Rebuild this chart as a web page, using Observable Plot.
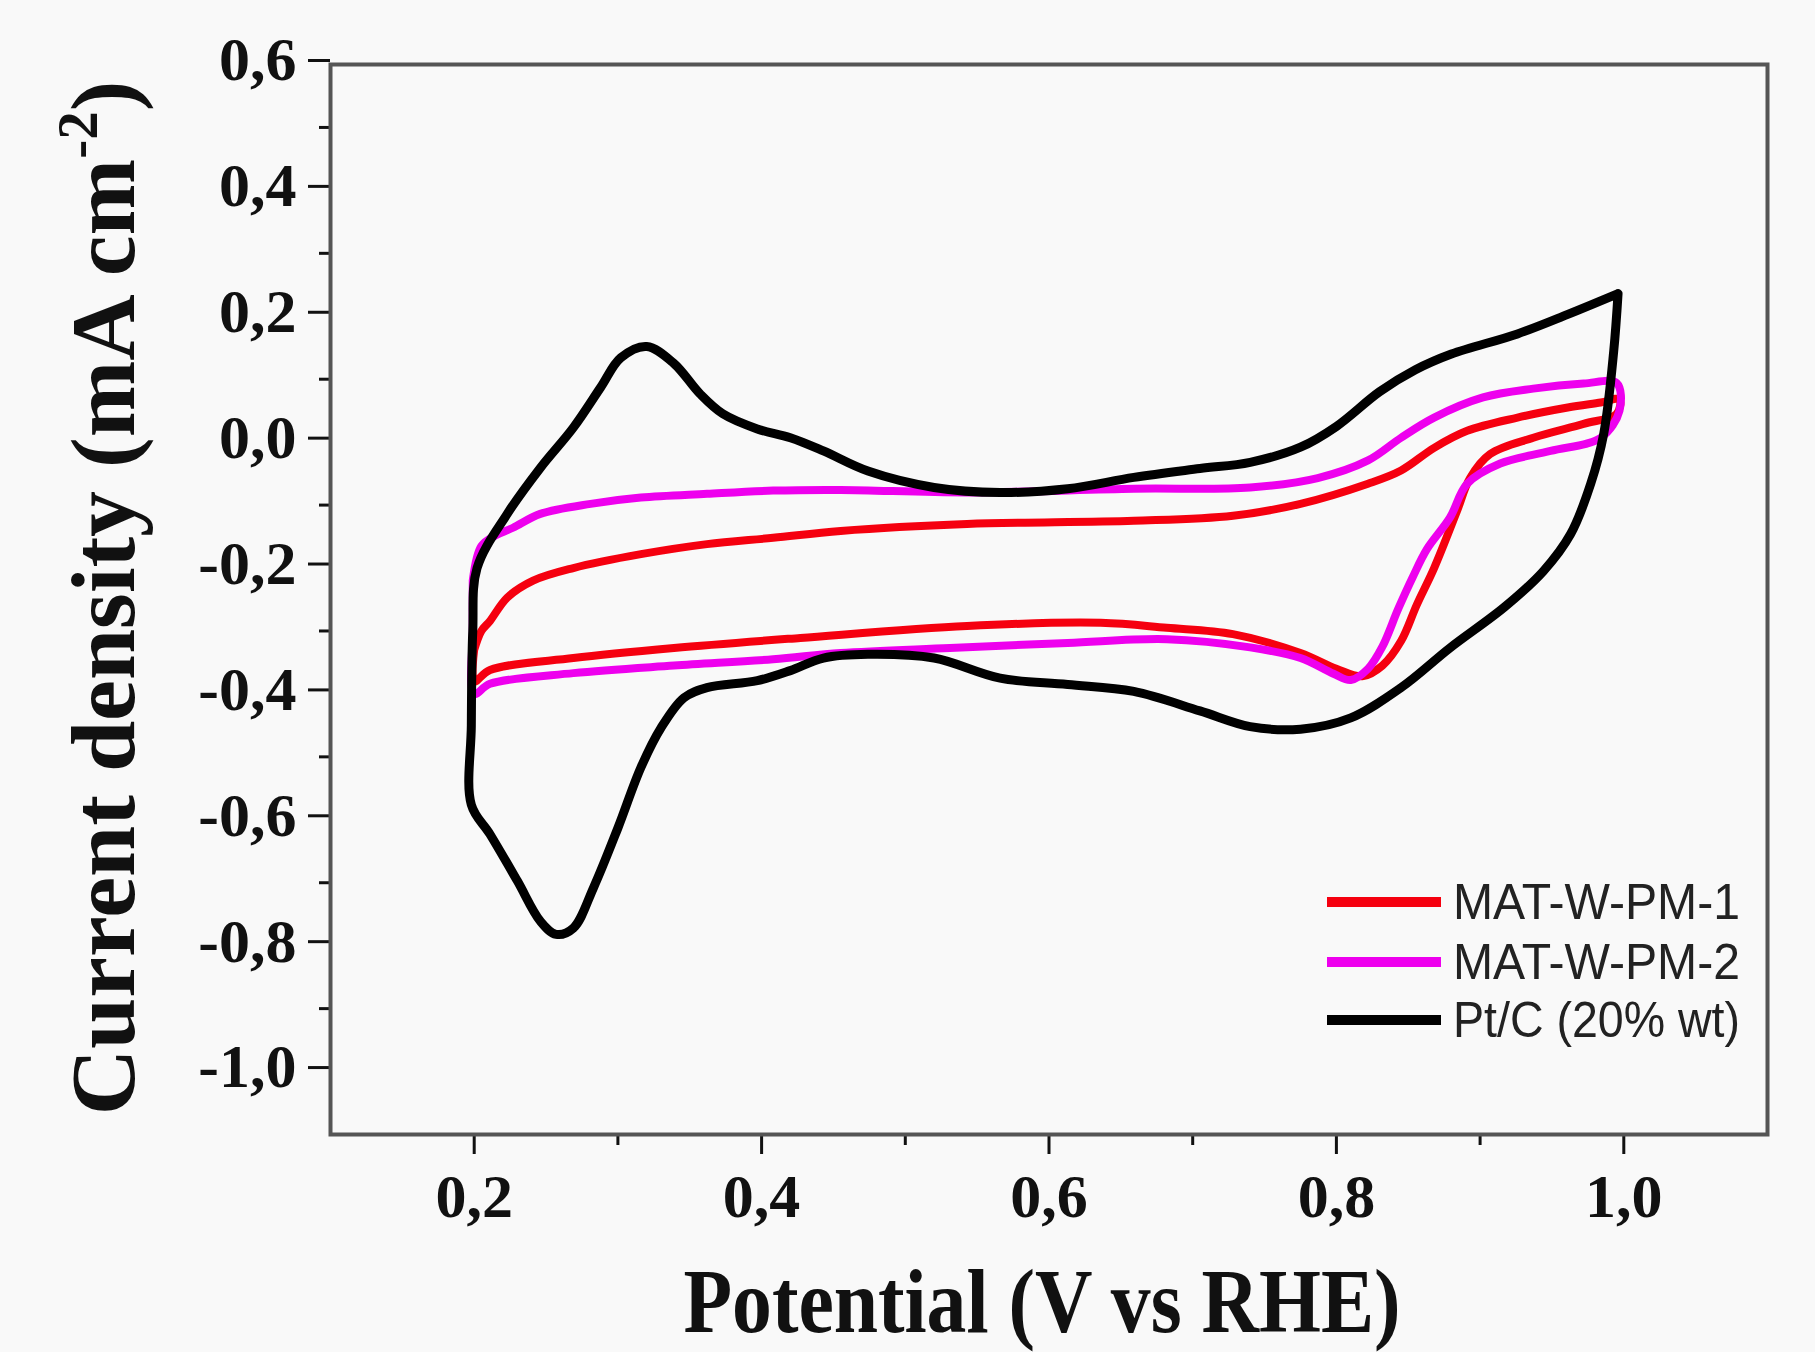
<!DOCTYPE html>
<html><head><meta charset="utf-8">
<script src="https://cdn.jsdelivr.net/npm/d3@7"></script>
<script src="https://cdn.jsdelivr.net/npm/@observablehq/plot@0.6"></script>
<style>html,body{margin:0;padding:0;background:#f9f9f9;} #chart{width:1815px;height:1352px;}</style>
</head><body><div id="chart"></div>
<script>
const seriesNames = ["MAT-W-PM-1", "MAT-W-PM-2", "Pt/C (20% wt)"];
const seriesColors = ["#f5000f", "#ee00ee", "#000000"];
const xMajorTicks = [0.2, 0.4, 0.6, 0.8, 1.0];
const xMinorTicks = [0.3, 0.5, 0.7, 0.9];
const yMajorTicks = [0.6, 0.4, 0.2, 0.0, -0.2, -0.4, -0.6, -0.8, -1.0];
const yMinorTicks = [0.5, 0.3, 0.1, -0.1, -0.3, -0.5, -0.7, -0.9];
const xTitle = "Potential (V vs RHE)";
const yTitle = ["Current density (mA cm", "-2", ")"];

// MAT-W-PM-1 (red) closed CV loop [potential, current density]
const mat1 = [[0.200,-0.330],[0.205,-0.300],[0.211,-0.284],[0.223,-0.247],[0.241,-0.220],[0.269,-0.200],[0.316,-0.178],[0.362,-0.162],[0.408,-0.152],[0.455,-0.141],[0.543,-0.130],[0.659,-0.125],[0.728,-0.117],[0.775,-0.098],[0.822,-0.066],[0.845,-0.045],[0.868,-0.009],[0.891,0.018],[0.926,0.039],[0.961,0.055],[0.984,0.063],[0.997,0.068],[0.995,0.045],[0.972,0.029],[0.937,0.007],[0.907,-0.019],[0.893,-0.057],[0.884,-0.109],[0.868,-0.200],[0.856,-0.258],[0.845,-0.316],[0.832,-0.355],[0.818,-0.372],[0.800,-0.360],[0.775,-0.335],[0.728,-0.305],[0.682,-0.295],[0.636,-0.287],[0.543,-0.292],[0.427,-0.311],[0.339,-0.327],[0.269,-0.343],[0.211,-0.362],[0.200,-0.380],[0.200,-0.330]];

// MAT-W-PM-2 (magenta)
const mat2 = [[0.199,-0.220],[0.205,-0.165],[0.215,-0.148],[0.227,-0.136],[0.246,-0.114],[0.281,-0.098],[0.316,-0.088],[0.362,-0.082],[0.408,-0.077],[0.455,-0.076],[0.543,-0.080],[0.659,-0.074],[0.740,-0.072],[0.787,-0.057],[0.822,-0.029],[0.845,0.007],[0.868,0.039],[0.902,0.071],[0.937,0.085],[0.972,0.093],[0.995,0.094],[0.997,0.050],[0.984,0.007],[0.949,-0.014],[0.914,-0.034],[0.891,-0.066],[0.879,-0.120],[0.863,-0.170],[0.853,-0.215],[0.843,-0.265],[0.832,-0.325],[0.822,-0.360],[0.810,-0.378],[0.798,-0.368],[0.775,-0.343],[0.740,-0.326],[0.682,-0.313],[0.613,-0.319],[0.531,-0.327],[0.455,-0.335],[0.408,-0.345],[0.339,-0.355],[0.269,-0.367],[0.211,-0.384],[0.200,-0.400],[0.199,-0.300],[0.199,-0.220]];

// Pt/C (20% wt) (black)
const ptc = [[0.996,0.236],[0.993,0.145],[0.986,0.013],[0.977,-0.066],[0.963,-0.146],[0.944,-0.205],[0.917,-0.262],[0.879,-0.327],[0.845,-0.390],[0.810,-0.438],[0.775,-0.456],[0.740,-0.452],[0.705,-0.427],[0.659,-0.396],[0.613,-0.385],[0.566,-0.375],[0.520,-0.343],[0.474,-0.337],[0.443,-0.343],[0.420,-0.363],[0.397,-0.379],[0.362,-0.390],[0.346,-0.406],[0.330,-0.454],[0.316,-0.517],[0.300,-0.613],[0.283,-0.708],[0.269,-0.772],[0.257,-0.782],[0.246,-0.761],[0.230,-0.697],[0.211,-0.623],[0.198,-0.576],[0.198,-0.450],[0.199,-0.300],[0.202,-0.200],[0.223,-0.114],[0.246,-0.041],[0.269,0.023],[0.288,0.087],[0.302,0.134],[0.320,0.152],[0.339,0.125],[0.357,0.077],[0.373,0.045],[0.397,0.021],[0.420,0.007],[0.443,-0.014],[0.474,-0.046],[0.520,-0.072],[0.566,-0.080],[0.613,-0.074],[0.659,-0.056],[0.705,-0.042],[0.740,-0.032],[0.775,-0.008],[0.800,0.025],[0.830,0.080],[0.855,0.115],[0.880,0.140],[0.926,0.172],[0.961,0.203],[0.996,0.236]];

const toRows = (pts, name) => pts.map(([x, y], i) => ({x, y, i, series: name}));
const fmt = d => d3.format(".1f")(d).replace(".", ",").replace("\u2212", "-");
const serif = "'Liberation Serif', 'Times New Roman', serif";

const chart = Plot.plot({
  width: 1815, height: 1352,
  marginLeft: 330, marginRight: 48, marginTop: 64, marginBottom: 218,
  x: {domain: [0.1, 1.1]},
  y: {domain: [-1.1, 0.6]},
  style: {background: "#f9f9f9", fontFamily: serif, fontWeight: "bold", color: "#111"},
  marks: [
    Plot.axisX({ticks: xMinorTicks, tickSize: 11, tickFormat: () => "", label: null, strokeWidth: 3}),
    Plot.axisY({ticks: yMinorTicks, tickSize: 11, tickFormat: () => "", label: null, strokeWidth: 3}),
    Plot.axisX({ticks: xMajorTicks, tickSize: 20, tickPadding: 18, tickFormat: fmt, label: null, fontSize: 62, strokeWidth: 3}),
    Plot.axisY({ticks: yMajorTicks, tickSize: 22, tickPadding: 12, tickFormat: fmt, label: null, fontSize: 62, strokeWidth: 3, dy: -4}),
    Plot.line(toRows(mat1, seriesNames[0]), {x: "x", y: "y", stroke: seriesColors[0], strokeWidth: 8, curve: "catmull-rom"}),
    Plot.line(toRows(mat2, seriesNames[1]), {x: "x", y: "y", stroke: seriesColors[1], strokeWidth: 8, curve: "catmull-rom"}),
    Plot.line(toRows(ptc, seriesNames[2]), {x: "x", y: "y", stroke: seriesColors[2], strokeWidth: 9, curve: "catmull-rom"}),
    Plot.frame({stroke: "#555", strokeWidth: 4})
  ]
});
document.getElementById("chart").appendChild(chart);

const svg = d3.select(chart);
// Axis titles
svg.append("text")
  .attr("x", 1042).attr("y", 1332)
  .attr("text-anchor", "middle")
  .attr("font-family", serif).attr("font-weight", "bold").attr("font-size", 90)
  .attr("textLength", 717).attr("lengthAdjust", "spacingAndGlyphs")
  .attr("fill", "#111")
  .text(xTitle);

const yt = svg.append("text")
  .attr("transform", "translate(134,598) rotate(-90)")
  .attr("text-anchor", "middle")
  .attr("font-family", serif).attr("font-weight", "bold").attr("font-size", 92)
  .attr("fill", "#111");
yt.append("tspan").text(yTitle[0]);
yt.append("tspan").attr("font-size", 57).attr("dy", -37).text(yTitle[1]);
yt.append("tspan").attr("dy", 37).text(yTitle[2]);

// Legend
const legendY = [902, 962, 1020];
seriesNames.forEach((name, k) => {
  svg.append("line")
    .attr("x1", 1327).attr("x2", 1441).attr("y1", legendY[k]).attr("y2", legendY[k])
    .attr("stroke", seriesColors[k]).attr("stroke-width", 10);
  svg.append("text")
    .attr("x", 1453).attr("y", legendY[k])
    .attr("text-anchor", "start")
    .attr("dominant-baseline", "central")
    .attr("font-family", "'Liberation Sans', Arial, sans-serif").attr("font-weight", "normal")
    .attr("font-size", 50).attr("fill", "#222")
    .attr("textLength", 287).attr("lengthAdjust", "spacingAndGlyphs")
    .text(name);
});
</script>
</body></html>
